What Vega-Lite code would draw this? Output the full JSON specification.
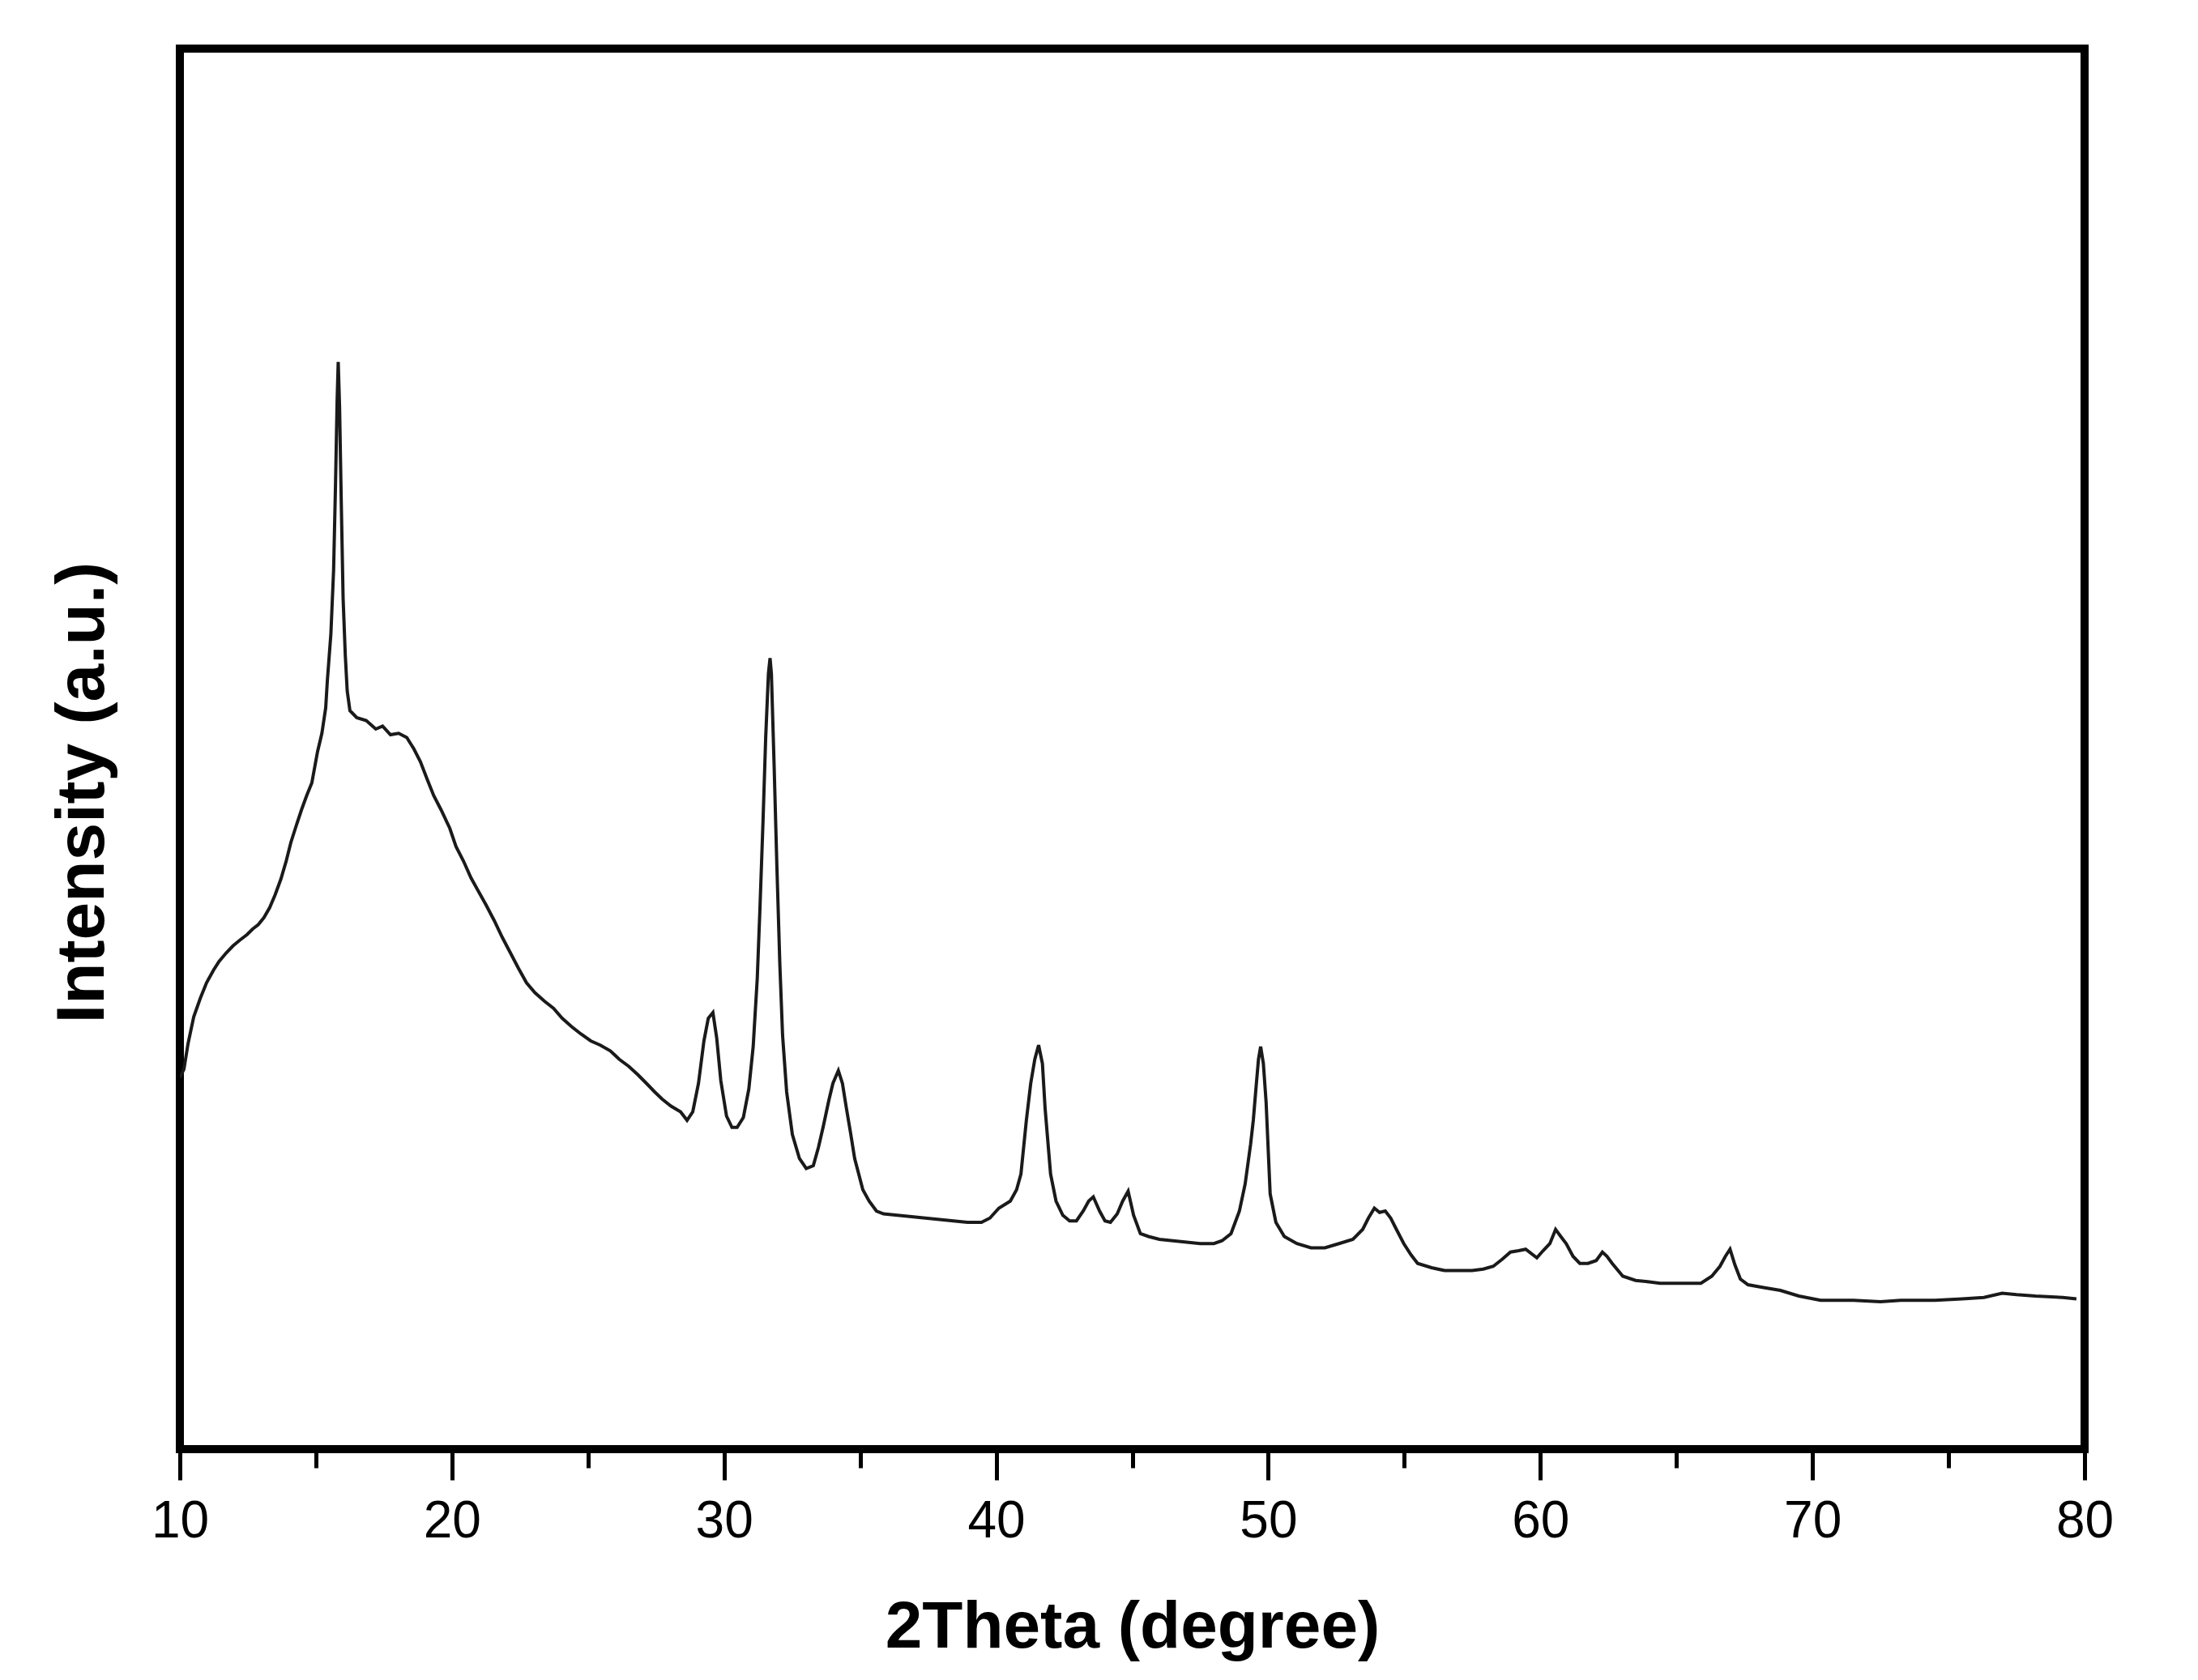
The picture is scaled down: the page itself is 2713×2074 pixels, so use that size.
{
  "$schema": "https://vega.github.io/schema/vega-lite/v6.json",
  "description": "XRD pattern, intensity vs 2Theta.",
  "autosize": {"type": "none"},
  "padding": {"left": 222, "top": 60, "right": 140, "bottom": 285},
  "width": 2351,
  "height": 1729,
  "background": "white",
  "data": {
    "values": [
      {"t": 10.00, "i": 262}, {"t": 10.15, "i": 268}, {"t": 10.30, "i": 286}, {"t": 10.51, "i": 305},
      {"t": 10.75, "i": 318}, {"t": 10.98, "i": 329}, {"t": 11.24, "i": 338}, {"t": 11.44, "i": 344},
      {"t": 11.70, "i": 350}, {"t": 11.95, "i": 355}, {"t": 12.20, "i": 359}, {"t": 12.47, "i": 363},
      {"t": 12.68, "i": 367}, {"t": 12.88, "i": 370}, {"t": 13.09, "i": 375}, {"t": 13.30, "i": 382},
      {"t": 13.50, "i": 391}, {"t": 13.71, "i": 402}, {"t": 13.91, "i": 415}, {"t": 14.08, "i": 428},
      {"t": 14.28, "i": 440}, {"t": 14.47, "i": 451}, {"t": 14.66, "i": 461}, {"t": 14.85, "i": 470},
      {"t": 15.06, "i": 492}, {"t": 15.22, "i": 505}, {"t": 15.36, "i": 523}, {"t": 15.42, "i": 542},
      {"t": 15.55, "i": 575}, {"t": 15.65, "i": 620}, {"t": 15.72, "i": 680}, {"t": 15.78, "i": 740},
      {"t": 15.82, "i": 767}, {"t": 15.87, "i": 735}, {"t": 15.93, "i": 670}, {"t": 16.00, "i": 600},
      {"t": 16.08, "i": 560}, {"t": 16.15, "i": 535}, {"t": 16.25, "i": 521}, {"t": 16.50, "i": 516},
      {"t": 16.85, "i": 514}, {"t": 17.20, "i": 508}, {"t": 17.45, "i": 510}, {"t": 17.74, "i": 504},
      {"t": 18.04, "i": 505}, {"t": 18.34, "i": 502}, {"t": 18.60, "i": 494}, {"t": 18.84, "i": 485},
      {"t": 19.08, "i": 473}, {"t": 19.33, "i": 461}, {"t": 19.60, "i": 451}, {"t": 19.92, "i": 438},
      {"t": 20.15, "i": 425}, {"t": 20.42, "i": 415}, {"t": 20.70, "i": 403}, {"t": 20.93, "i": 395},
      {"t": 21.25, "i": 384}, {"t": 21.55, "i": 373}, {"t": 21.85, "i": 361}, {"t": 22.15, "i": 350},
      {"t": 22.45, "i": 339}, {"t": 22.74, "i": 329}, {"t": 23.05, "i": 322}, {"t": 23.40, "i": 316},
      {"t": 23.73, "i": 311}, {"t": 24.05, "i": 304}, {"t": 24.40, "i": 298}, {"t": 24.73, "i": 293},
      {"t": 25.10, "i": 288}, {"t": 25.45, "i": 285}, {"t": 25.82, "i": 281}, {"t": 26.15, "i": 275},
      {"t": 26.50, "i": 270}, {"t": 26.84, "i": 264}, {"t": 27.20, "i": 257}, {"t": 27.45, "i": 252},
      {"t": 27.72, "i": 247}, {"t": 28.05, "i": 242}, {"t": 28.40, "i": 238}, {"t": 28.64, "i": 232},
      {"t": 28.85, "i": 238}, {"t": 29.06, "i": 258}, {"t": 29.26, "i": 288}, {"t": 29.42, "i": 304},
      {"t": 29.59, "i": 308}, {"t": 29.73, "i": 290}, {"t": 29.88, "i": 260}, {"t": 30.09, "i": 235},
      {"t": 30.29, "i": 227}, {"t": 30.48, "i": 227}, {"t": 30.71, "i": 234}, {"t": 30.91, "i": 254},
      {"t": 31.07, "i": 284}, {"t": 31.22, "i": 332}, {"t": 31.32, "i": 382}, {"t": 31.43, "i": 442},
      {"t": 31.53, "i": 502}, {"t": 31.63, "i": 547}, {"t": 31.69, "i": 558}, {"t": 31.74, "i": 547},
      {"t": 31.84, "i": 482}, {"t": 31.94, "i": 412}, {"t": 32.05, "i": 342}, {"t": 32.15, "i": 292},
      {"t": 32.30, "i": 252}, {"t": 32.51, "i": 222}, {"t": 32.77, "i": 205}, {"t": 33.02, "i": 198},
      {"t": 33.28, "i": 200}, {"t": 33.47, "i": 213}, {"t": 33.65, "i": 228}, {"t": 33.85, "i": 246},
      {"t": 34.00, "i": 258}, {"t": 34.20, "i": 267}, {"t": 34.35, "i": 258}, {"t": 34.50, "i": 240},
      {"t": 34.65, "i": 223}, {"t": 34.80, "i": 205}, {"t": 34.95, "i": 194}, {"t": 35.10, "i": 183},
      {"t": 35.33, "i": 175}, {"t": 35.60, "i": 168}, {"t": 35.86, "i": 166}, {"t": 36.37, "i": 165},
      {"t": 36.89, "i": 164}, {"t": 37.40, "i": 163}, {"t": 37.92, "i": 162}, {"t": 38.43, "i": 161},
      {"t": 38.95, "i": 160}, {"t": 39.46, "i": 160}, {"t": 39.77, "i": 163}, {"t": 40.10, "i": 170},
      {"t": 40.52, "i": 175}, {"t": 40.75, "i": 183}, {"t": 40.91, "i": 194}, {"t": 41.11, "i": 232},
      {"t": 41.27, "i": 258}, {"t": 41.42, "i": 275}, {"t": 41.56, "i": 285}, {"t": 41.70, "i": 272},
      {"t": 41.80, "i": 240}, {"t": 42.00, "i": 194}, {"t": 42.20, "i": 175}, {"t": 42.45, "i": 165},
      {"t": 42.70, "i": 161}, {"t": 42.95, "i": 161}, {"t": 43.20, "i": 168}, {"t": 43.40, "i": 175},
      {"t": 43.57, "i": 178}, {"t": 43.80, "i": 168}, {"t": 44.00, "i": 161}, {"t": 44.20, "i": 160},
      {"t": 44.45, "i": 166}, {"t": 44.65, "i": 175}, {"t": 44.85, "i": 182}, {"t": 45.05, "i": 165},
      {"t": 45.30, "i": 152}, {"t": 45.60, "i": 150}, {"t": 46.00, "i": 148}, {"t": 46.50, "i": 147},
      {"t": 47.00, "i": 146}, {"t": 47.50, "i": 145}, {"t": 48.00, "i": 145}, {"t": 48.30, "i": 147},
      {"t": 48.63, "i": 152}, {"t": 48.94, "i": 168}, {"t": 49.15, "i": 187}, {"t": 49.35, "i": 215},
      {"t": 49.45, "i": 232}, {"t": 49.55, "i": 255}, {"t": 49.64, "i": 275}, {"t": 49.72, "i": 284},
      {"t": 49.82, "i": 272}, {"t": 49.92, "i": 245}, {"t": 50.07, "i": 180}, {"t": 50.28, "i": 160},
      {"t": 50.59, "i": 150}, {"t": 51.05, "i": 145}, {"t": 51.57, "i": 142}, {"t": 52.08, "i": 142},
      {"t": 52.60, "i": 145}, {"t": 53.11, "i": 148}, {"t": 53.47, "i": 155}, {"t": 53.68, "i": 163},
      {"t": 53.90, "i": 170}, {"t": 54.09, "i": 167}, {"t": 54.30, "i": 168}, {"t": 54.50, "i": 163},
      {"t": 54.71, "i": 155}, {"t": 54.98, "i": 145}, {"t": 55.25, "i": 137}, {"t": 55.49, "i": 131},
      {"t": 56.00, "i": 128}, {"t": 56.48, "i": 126}, {"t": 57.00, "i": 126}, {"t": 57.49, "i": 126},
      {"t": 57.90, "i": 127}, {"t": 58.27, "i": 129}, {"t": 58.60, "i": 134}, {"t": 58.90, "i": 139},
      {"t": 59.20, "i": 140}, {"t": 59.46, "i": 141}, {"t": 59.87, "i": 135}, {"t": 60.10, "i": 140},
      {"t": 60.35, "i": 145}, {"t": 60.56, "i": 155}, {"t": 60.75, "i": 150}, {"t": 60.95, "i": 145},
      {"t": 61.20, "i": 136}, {"t": 61.45, "i": 131}, {"t": 61.75, "i": 131}, {"t": 62.05, "i": 133},
      {"t": 62.28, "i": 139}, {"t": 62.45, "i": 136}, {"t": 62.64, "i": 131}, {"t": 63.03, "i": 122},
      {"t": 63.50, "i": 119}, {"t": 64.00, "i": 118}, {"t": 64.40, "i": 117}, {"t": 65.00, "i": 117},
      {"t": 65.90, "i": 117}, {"t": 66.30, "i": 122}, {"t": 66.60, "i": 129}, {"t": 66.80, "i": 136},
      {"t": 66.97, "i": 141}, {"t": 67.15, "i": 130}, {"t": 67.35, "i": 120}, {"t": 67.63, "i": 116},
      {"t": 68.20, "i": 114}, {"t": 68.82, "i": 112}, {"t": 69.50, "i": 108}, {"t": 70.30, "i": 105},
      {"t": 71.50, "i": 105}, {"t": 72.50, "i": 104}, {"t": 73.25, "i": 105}, {"t": 74.50, "i": 105},
      {"t": 75.50, "i": 106}, {"t": 76.30, "i": 107}, {"t": 76.97, "i": 110}, {"t": 77.50, "i": 109},
      {"t": 78.20, "i": 108}, {"t": 79.20, "i": 107}, {"t": 79.70, "i": 106}
    ]
  },
  "mark": {"type": "line", "color": "#1a1a1a", "strokeWidth": 4, "clip": true},
  "encoding": {
    "x": {
      "field": "t",
      "type": "quantitative",
      "scale": {"domain": [10, 80], "nice": false, "zero": false},
      "axis": {
        "title": "2Theta (degree)",
        "values": [10, 15, 20, 25, 30, 35, 40, 45, 50, 55, 60, 65, 70, 75, 80],
        "labelExpr": "datum.value % 10 === 0 ? datum.label : ''",
        "tickSize": {"condition": {"test": "datum.value % 10 === 0", "value": 38}, "value": 23},
        "tickWidth": 5,
        "tickColor": "black",
        "domain": false,
        "grid": false,
        "labelFont": "Liberation Sans",
        "labelFontSize": 64,
        "labelColor": "black",
        "labelBaseline": "alphabetic",
        "labelPadding": 70,
        "labelFlush": false,
        "labelOverlap": false,
        "titleFont": "Liberation Sans",
        "titleFontSize": 82,
        "titleFontWeight": "bold",
        "titleColor": "black",
        "titleBaseline": "alphabetic",
        "titleY": 244
      }
    },
    "y": {
      "field": "i",
      "type": "quantitative",
      "scale": {"domain": [0, 988], "nice": false},
      "axis": {
        "title": "Intensity (a.u.)",
        "domain": false,
        "ticks": false,
        "labels": false,
        "grid": false,
        "titleFont": "Liberation Sans",
        "titleFontSize": 84,
        "titleFontWeight": "bold",
        "titleColor": "black",
        "titleBaseline": "alphabetic",
        "titleX": -95,
        "titleY": 918
      }
    }
  },
  "config": {
    "view": {"stroke": "black", "strokeWidth": 10}
  }
}
